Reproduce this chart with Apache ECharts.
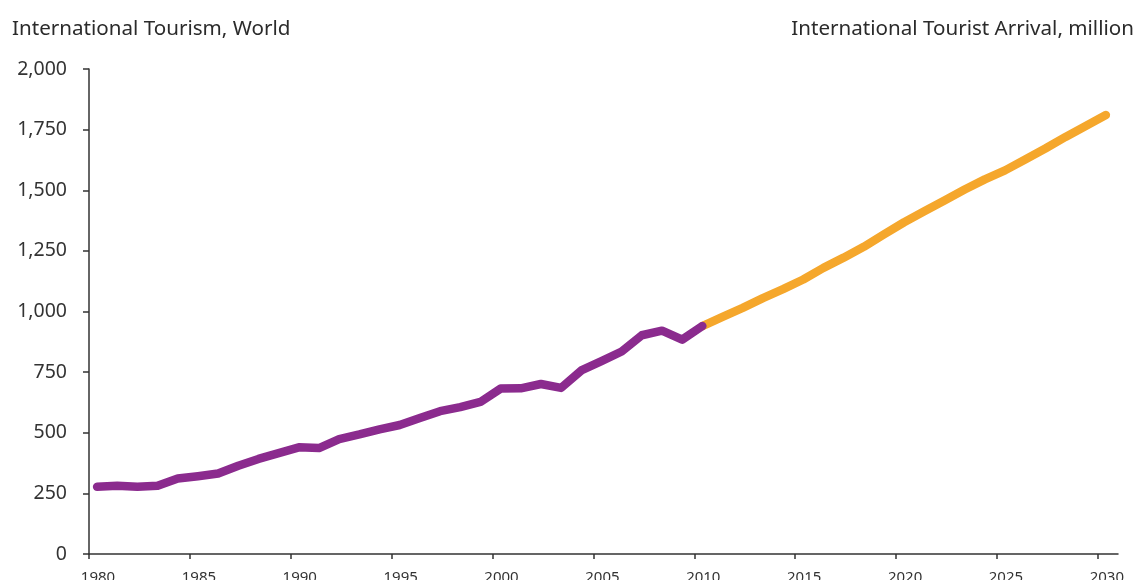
<!DOCTYPE html>
<html>
<head>
<meta charset="utf-8">
<script src="https://cdn.jsdelivr.net/npm/echarts@6/dist/echarts.min.js"></script>
<style>
html,body{margin:0;padding:0;background:#fff;}
#chart{width:1135px;height:580px;}
</style>
</head>
<body>
<div id="chart"></div>
<script>
const titleLeft = 'International Tourism, World';
const titleRight = 'International Tourist Arrival, million';
const actualYears = [1980,1981,1982,1983,1984,1985,1986,1987,1988,1989,1990,1991,1992,1993,1994,1995,1996,1997,1998,1999,2000,2001,2002,2003,2004,2005,2006,2007,2008,2009,2010];
const actualValues = [277,281,277,281,311,321,332,364,392,416,440,437,474,493,514,532,561,589,606,627,682,683,701,685,757,795,835,902,921,884,940];
const forecastYears = [2010,2011,2012,2013,2014,2015,2016,2017,2018,2019,2020,2021,2022,2023,2024,2025,2026,2027,2028,2029,2030];
const forecastValues = [940,978,1015,1055,1092,1132,1180,1222,1267,1318,1368,1413,1458,1503,1545,1582,1627,1672,1720,1765,1810];
const xTicks = [1980,1985,1990,1995,2000,2005,2010,2015,2020,2025,2030];
const yTicks = [0,250,500,750,1000,1250,1500,1750,2000];

const MID = 0.4; // points are drawn inside each year's span
const font = '"Noto Sans", "Open Sans", sans-serif';
const chart = echarts.init(document.getElementById('chart'));
chart.setOption({
  animation: false,
  title: [
    {text: titleLeft, left: 7, top: 14, textStyle: {fontFamily: font, fontSize: 20.6, fontWeight: 'normal', color: '#2b2b2b'}},
    {text: titleRight, right: -4, top: 14, textStyle: {fontFamily: font, fontSize: 20.6, fontWeight: 'normal', color: '#2b2b2b'}}
  ],
  grid: {left: 89, right: 17, top: 69, bottom: 26, containLabel: false, outerBoundsMode: 'none'},
  xAxis: {
    type: 'value', min: 1980, max: 2031,
    axisLine: {show: true, lineStyle: {color: '#333', width: 1.5}},
    axisTick: {show: true, length: 5, customValues: xTicks, lineStyle: {color: '#333', width: 1.5}},
    axisLabel: {customValues: xTicks, margin: 16, padding: [0, 0, 0, 18], fontFamily: font, fontSize: 15, color: '#333', formatter: v => String(v)},
    splitLine: {show: false}
  },
  yAxis: {
    type: 'value', min: 0, max: 2000, interval: 250,
    axisLine: {show: true, lineStyle: {color: '#333', width: 1.5}},
    axisTick: {show: true, length: 6, inside: false, lineStyle: {color: '#333', width: 1.5}},
    axisLabel: {margin: 22, fontFamily: font, fontSize: 19.5, color: '#333', formatter: v => v.toLocaleString('en-US')},
    splitLine: {show: false}
  },
  series: [
    {type: 'line', data: actualYears.map((y, i) => [y + MID, actualValues[i]]), showSymbol: false, symbol: 'none',
     lineStyle: {color: '#8b2b8e', width: 8.5, cap: 'round', join: 'round'}, z: 3},
    {type: 'line', data: forecastYears.map((y, i) => [y + MID, forecastValues[i]]), showSymbol: false, symbol: 'none',
     lineStyle: {color: '#f5a72c', width: 8.5, cap: 'round', join: 'round'}, z: 2}
  ]
});
</script>
</body>
</html>
